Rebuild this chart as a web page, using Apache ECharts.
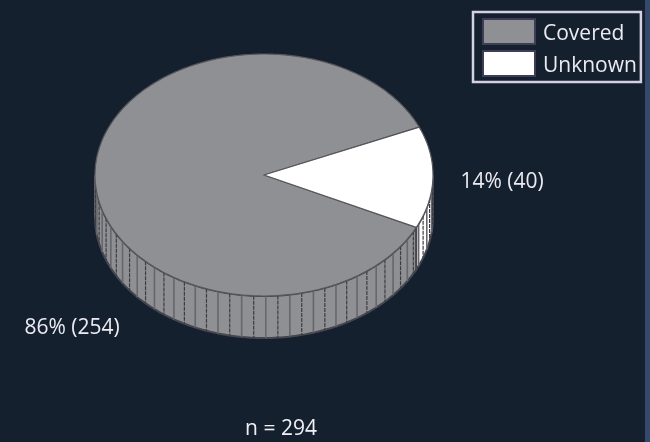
<!DOCTYPE html>
<html><head><meta charset="utf-8">
<style>html,body{margin:0;padding:0;background:#15202f}#c{width:650px;height:442px}</style>
<script src="https://cdn.jsdelivr.net/npm/echarts@6/dist/echarts.min.js"></script>
</head><body><div id="c"></div>
<script>
const categories = ['Covered', 'Unknown'];
const counts = [254, 40];
const percents = [86, 14];
const sampleLabel = 'n = 294';

const total = counts[0] + counts[1];
const cx = 264, cy = 175, rx = 169, ry = 121, depth = 42;
const startDeg = 23.3, hatchStep = 4.1;
const colors = ['#8f9094', '#ffffff'];
const labelPos = [[72, 328], [502, 182]];
const rad = d => d * Math.PI / 180;
const pt = (d, dy) => [cx + rx * Math.cos(rad(d)), cy - ry * Math.sin(rad(d)) + (dy || 0)];

function arc(a, b, dy) {
  const out = [], n = Math.max(2, Math.ceil(Math.abs(b - a)));
  for (let i = 0; i <= n; i++) out.push(pt(a + (b - a) * i / n, dy));
  return out;
}
function renderSlice(index) {
  return function (params, api) {
    const before = index === 0 ? 0 : counts[0];
    const a0 = startDeg + before / total * 360;
    const a1 = a0 + api.value(0) / total * 360;
    const kids = [];
    const s = index === 0 ? 180 : a0;
    const e = index === 0 ? a1 : 360;
    kids.push({ type: 'polygon', shape: { points: arc(s, e, 0).concat(arc(e, s, depth)) },
      style: { fill: colors[index], stroke: '#46464e', lineWidth: 2 } });
    let k = Math.ceil(s / hatchStep);
    for (let d = k * hatchStep; d < e; d += hatchStep, k++) {
      const p = pt(d, 0), q = pt(d, depth);
      kids.push({ type: 'line', shape: { x1: p[0], y1: p[1], x2: q[0], y2: q[1] },
        style: { stroke: k % 2 ? '#3c3c44' : '#66666c', lineWidth: k % 2 ? 1.2 : 1.6, lineDash: k % 2 ? [4, 1] : null } });
    }
    kids.push({ type: 'polygon', shape: { points: [[cx, cy]].concat(arc(a0, a1, 0)) },
      style: { fill: colors[index], stroke: '#56565c', lineWidth: 1.2, lineJoin: 'round' } });
    kids.push({ type: 'text', style: {
      text: percents[index] + '% (' + api.value(0) + ')',
      x: labelPos[index][0], y: labelPos[index][1], align: 'center', verticalAlign: 'middle',
      fill: '#ecebf3', font: '21px "Open Sans"' } });
    return { type: 'group', children: kids };
  };
}
const chart = echarts.init(document.getElementById('c'), null, { renderer: 'canvas' });
chart.setOption({
  animation: false,
  backgroundColor: '#15202f',
  title: { text: sampleLabel, left: 276, top: 414, textAlign: 'center',
    textStyle: { color: '#f0eff6', fontFamily: 'Open Sans', fontSize: 21, fontWeight: 500 } },
  legend: {
    data: categories, orient: 'vertical', left: 473, top: 12, padding: [6, 4, 5, 9], itemGap: 5,
    itemWidth: 52, itemHeight: 25, icon: 'rect', borderColor: '#d4d2e2', borderWidth: 2.5,
    backgroundColor: '#15202f',
    textStyle: { color: '#ecebf3', fontFamily: 'Open Sans', fontSize: 21, lineHeight: 25,
      rich: { a: { fontSize: 21, padding: [5, 0, 0, 3], color: '#ecebf3', fontFamily: 'Open Sans' } } },
    formatter: name => '{a|' + name + '}',
    itemStyle: { borderColor: '#3f3c58', borderWidth: 2 }
  },
  graphic: [{ type: 'rect', shape: { x: 645, y: 0, width: 5, height: 442 }, style: { fill: '#34496b' } }],
  series: categories.map((name, i) => ({
    type: 'custom', name, coordinateSystem: 'none',
    encode: { value: 0 },
    itemStyle: { color: colors[i] },
    renderItem: renderSlice(i), data: [[counts[i]]], silent: true
  }))
});
</script></body></html>
